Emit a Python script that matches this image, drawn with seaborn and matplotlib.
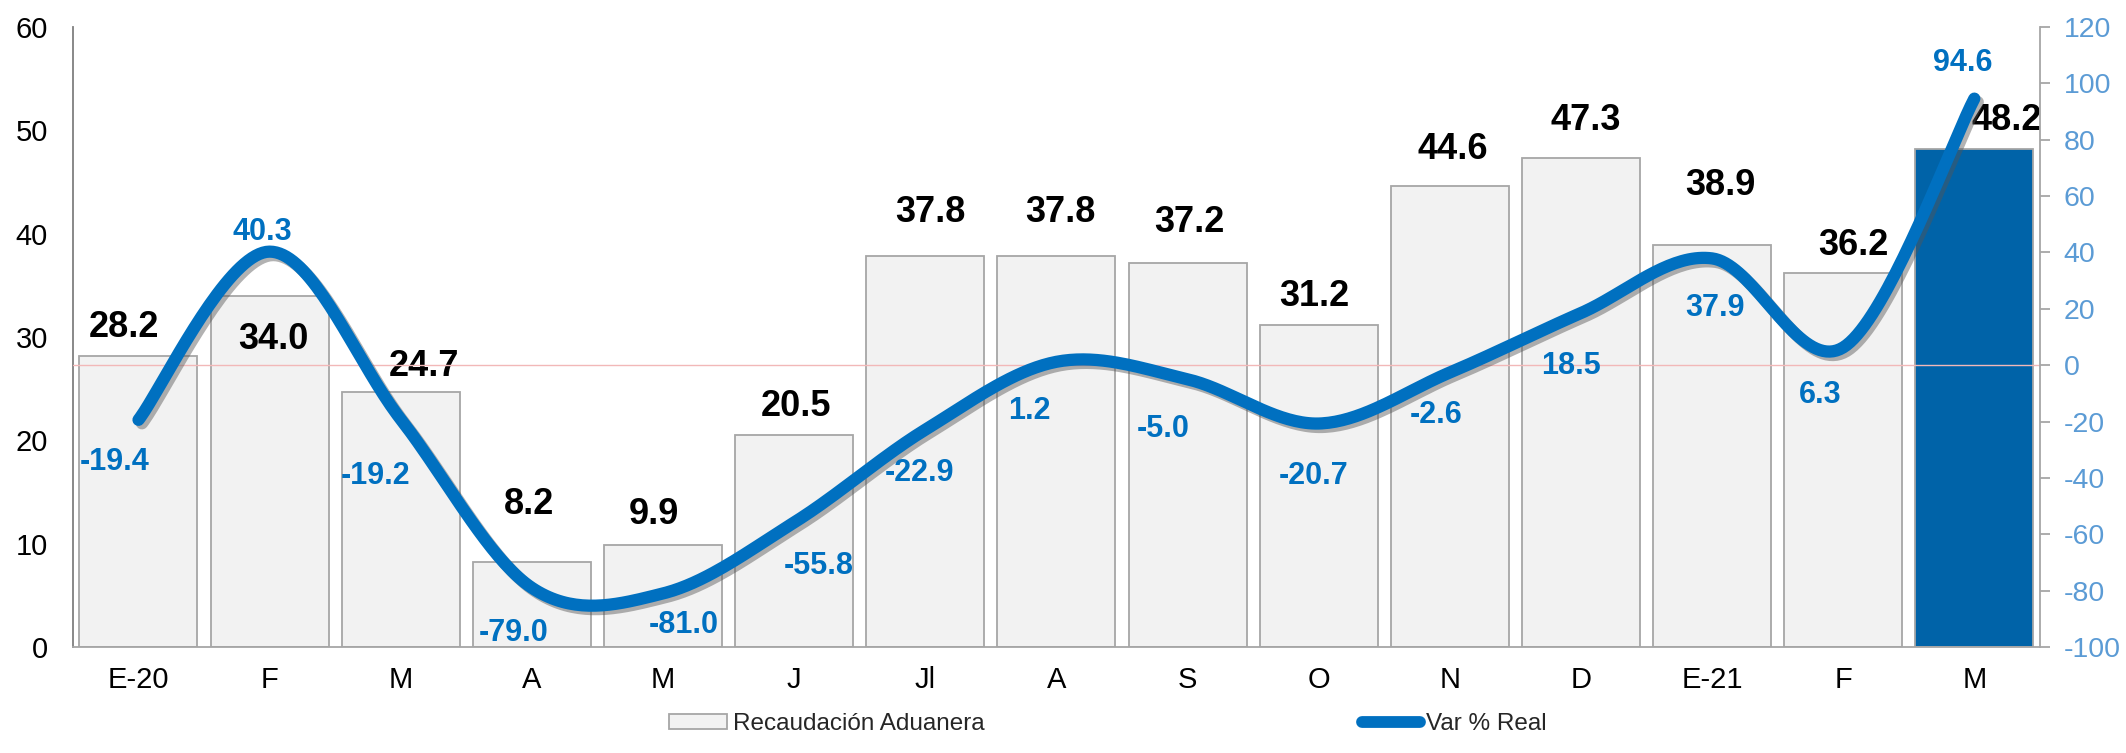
import numpy as np
import pandas as pd
import matplotlib
matplotlib.use("Agg")
import matplotlib.pyplot as plt
import matplotlib.patheffects as pe
from matplotlib.patches import Patch
from matplotlib.lines import Line2D
import seaborn as sns

# data
meses = ["E-20", "F", "M", "A", "M", "J", "Jl", "A", "S", "O", "N", "D", "E-21", "F", "M"]
recaudacion = [28.2, 34.0, 24.7, 8.2, 9.9, 20.5, 37.8, 37.8, 37.2, 31.2, 44.6, 47.3, 38.9, 36.2, 48.2]
var_real = [-19.4, 40.3, -19.2, -79.0, -81.0, -55.8, -22.9, 1.2, -5.0, -20.7, -2.6, 18.5, 37.9, 6.3, 94.6]

# label offsets (pixels) relative to each mark, tuned by eye
bar_lbl_off = [(-14, 31), (4, -41), (23, 28), (-3, 61), (-9, 33), (2, 31), (5, 47), (4, 47),
               (2, 43), (-4, 31), (3, 39), (5, 41), (8, 62), (10, 30), (32, 31)]
line_lbl_off = [(-24, -39), (-7, 22), (-25, -54), (-18, -42), (21, -29), (25, -41), (-6, -41),
                (-27, -46), (-24, -47), (-5, -50), (-14, -40), (-10, -50), (3, -47), (-23, -45),
                (-12, 38)]

GRIS = "#F2F2F2"
BORDE = "#A6A6A6"
AZUL_BARRA = "#0063A8"
AZUL_LINEA = "#0070C0"
AZUL_EJE = "#5B9BD5"

sns.set_theme(style="white")
plt.rcParams["font.family"] = ["Liberation Sans", "DejaVu Sans"]
plt.rcParams["axes.unicode_minus"] = False

df = pd.DataFrame({"pos": range(len(meses)), "mes": meses,
                   "recaudacion": recaudacion, "var": var_real})

fig = plt.figure(figsize=(21.26, 7.53), dpi=100)
ax = fig.add_axes([0.0343, 0.1408, 0.9252, 0.8233])

colores = [GRIS] * (len(meses) - 1) + [AZUL_BARRA]
sns.barplot(data=df, x="pos", y="recaudacion", hue="pos", palette=colores, legend=False,
            width=0.9, edgecolor=BORDE, linewidth=1.3, saturation=1, ax=ax)
ax.set_xlim(-0.5, len(meses) - 0.5)
ax.set_ylim(0, 60)
ax.set_yticks(range(0, 61, 10))
ax.set_xticks(range(len(meses)))
ax.set_xticklabels(meses)
ax.set_xlabel("")
ax.set_ylabel("")
ax.tick_params(axis="y", labelsize=21, length=0, pad=18, labelcolor="black")
ax.tick_params(axis="x", labelsize=21, length=0, pad=14, labelcolor="black")
for s in ["top", "right"]:
    ax.spines[s].set_visible(False)
ax.spines["left"].set_color("#7F7F7F")
ax.spines["left"].set_linewidth(1.3)
ax.spines["bottom"].set_color("#A6A6A6")
ax.spines["bottom"].set_linewidth(1.3)

for i, v in enumerate(recaudacion):
    dx, dy = bar_lbl_off[i]
    ax.annotate(f"{v:.1f}", xy=(i, v), xytext=(dx * 0.72, dy * 0.72 - 2), textcoords="offset points",
                ha="center", va="center", fontsize=26, fontweight="bold", color="black", zorder=6)

# secondary axis for real variation
ax2 = ax.twinx()
ax2.set_ylim(-100, 120)
ax2.set_yticks(range(-100, 121, 20))
ax2.tick_params(axis="y", labelsize=20.5, labelcolor=AZUL_EJE, color="#A6A6A6",
                length=7, width=1.3, pad=10, direction="out")
for s in ["top", "left", "bottom"]:
    ax2.spines[s].set_visible(False)
ax2.spines["right"].set_color("#A6A6A6")
ax2.spines["right"].set_linewidth(1.3)
ax2.axhline(0, color="#F2B8B8", lw=1.0, zorder=1)

# smoothed line (Catmull-Rom style, as in the source spreadsheet)
xs = np.arange(len(var_real), dtype=float)
ys = np.array(var_real, dtype=float)
px = np.concatenate([[xs[0]], xs, [xs[-1]]])
py = np.concatenate([[ys[0]], ys, [ys[-1]]])
cx, cy = [], []
t = np.linspace(0, 1, 40)
for k in range(1, len(px) - 2):
    p0 = np.array([px[k], py[k]])
    p3 = np.array([px[k + 1], py[k + 1]])
    c1 = p0 + (np.array([px[k + 1], py[k + 1]]) - np.array([px[k - 1], py[k - 1]])) / 6
    c2 = p3 - (np.array([px[k + 2], py[k + 2]]) - np.array([px[k], py[k]])) / 6
    b = ((1 - t) ** 3)[:, None] * p0 + (3 * (1 - t) ** 2 * t)[:, None] * c1 \
        + (3 * (1 - t) * t ** 2)[:, None] * c2 + (t ** 3)[:, None] * p3
    cx.extend(b[:, 0])
    cy.extend(b[:, 1])

curva = pd.DataFrame({"x": cx, "y": cy})
sns.lineplot(data=curva, x="x", y="y", sort=False, color=AZUL_LINEA, lw=8.8, ax=ax2,
             solid_capstyle="round", solid_joinstyle="round", zorder=4,
             path_effects=[pe.SimpleLineShadow(offset=(2.5, -2.5), shadow_color="#555555", alpha=0.45),
                           pe.Normal()])
ax2.set_xlabel("")
ax2.set_ylabel("")

for i, v in enumerate(var_real):
    dx, dy = line_lbl_off[i]
    ax2.annotate(f"{v:.1f}", xy=(i, v), xytext=(dx * 0.72, dy * 0.72 - 2), textcoords="offset points",
                 ha="center", va="center", fontsize=22, fontweight="bold", color=AZUL_LINEA, zorder=6)

handles = [Patch(facecolor=GRIS, edgecolor=BORDE, linewidth=1.3),
           Line2D([0], [0], color=AZUL_LINEA, lw=8.5, solid_capstyle="round")]
fig.legend(handles, ["Recaudación Aduanera", "Var % Real"], loc="center",
           bbox_to_anchor=(0.521, 0.0385), ncol=2, frameon=False, fontsize=17.5,
           handlelength=2.4, handleheight=0.55, handletextpad=0.25, columnspacing=15.5)

fig.savefig("out.png", dpi=100)
